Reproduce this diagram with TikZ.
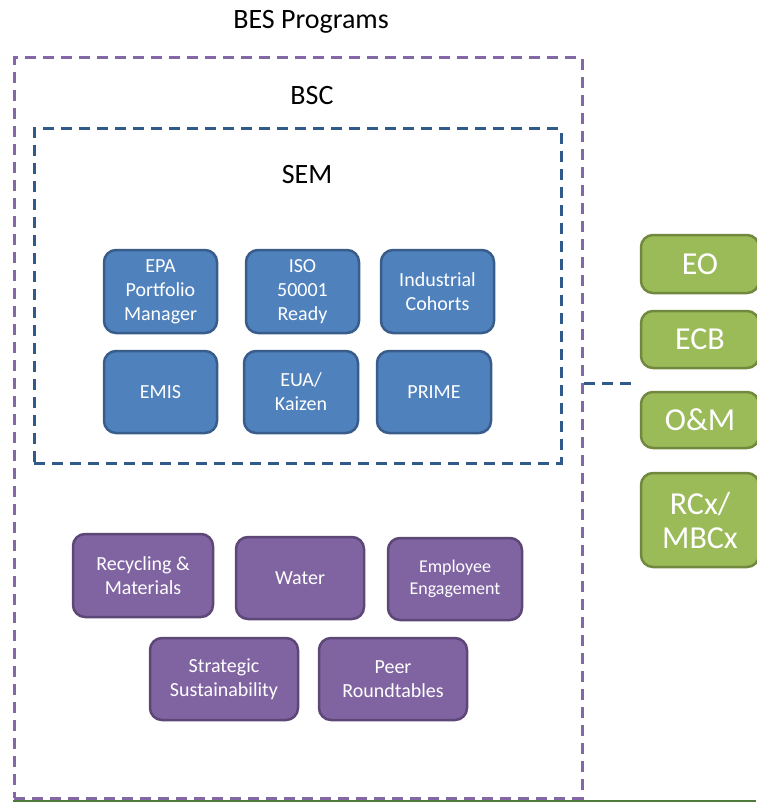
\documentclass[tikz,border=0pt]{standalone}
\usepackage{fontspec}
\setmainfont{Carlito}
\definecolor{bfill}{HTML}{4F81BD}
\definecolor{bdraw}{HTML}{385D8A}
\definecolor{pfill}{HTML}{8064A2}
\definecolor{pdraw}{HTML}{5C4776}
\definecolor{gfill}{HTML}{9BBB59}
\definecolor{gdraw}{HTML}{71893F}
\definecolor{pdash}{HTML}{8467A6}
\definecolor{bdash}{HTML}{2F5A8A}
\definecolor{gline}{HTML}{4F7A3A}
\tikzset{
  box/.style={rounded corners=12pt, line width=2.5pt, inner sep=0pt, align=center,
    text=white, font=\fontsize{20}{24}\selectfont},
  bluebox/.style={box, fill=bfill, draw=bdraw},
  purplebox/.style={box, fill=pfill, draw=pdraw},
  greenbox/.style={box, fill=gfill, draw=gdraw, font=\fontsize{32}{34}\selectfont},
  frame/.style={line width=3pt, dash pattern=on 11pt off 7pt, inner sep=0pt},
  titletext/.style={anchor=base, font=\fontsize{28}{34}\selectfont, inner sep=0pt},
  conn/.style={line width=3pt, draw=bdash, dash pattern=on 11pt off 7pt}
}
\begin{document}
\begin{tikzpicture}[x=1pt,y=-1pt]
\useasboundingbox (0,0) rectangle (756,802);
% frames
\node[frame, draw=pdash, minimum width=568pt, minimum height=740pt] (bsc) at (298,428) {};
\node[frame, draw=bdash, minimum width=527pt, minimum height=334pt] (sem) at (297.5,296) {};
% titles
\node[titletext] (bes) at (311,29) {BES Programs};
\node[titletext] (bsclabel) at (312,105) {BSC};
\node[titletext] (semlabel) at (307,184) {SEM};
% blue boxes
\node[bluebox, minimum width=113pt, minimum height=83pt] (epa) at (160.5,291.5) {EPA\\Portfolio\\Manager};
\node[bluebox, minimum width=113pt, minimum height=83pt] (iso) at (302.5,291.5) {ISO\\50001\\Ready};
\node[bluebox, minimum width=113pt, minimum height=83pt] (ind) at (437.5,291.5) {Industrial\\Cohorts};
\node[bluebox, minimum width=113pt, minimum height=82pt] (emis) at (160.5,392) {EMIS};
\node[bluebox, minimum width=114pt, minimum height=82pt] (eua) at (301,392) {EUA/\\Kaizen};
\node[bluebox, minimum width=114pt, minimum height=82pt] (prime) at (434,392) {PRIME};
% purple boxes
\node[purplebox, minimum width=140pt, minimum height=83pt] (rec) at (143,575.5) {Recycling \&\\Materials};
\node[purplebox, minimum width=128pt, minimum height=82pt] (water) at (300,578) {Water};
\node[purplebox, minimum width=134pt, minimum height=82pt, font=\fontsize{18}{22}\selectfont] (emp) at (455,579) {Employee\\Engagement};
\node[purplebox, minimum width=148pt, minimum height=82pt] (strat) at (224,679) {Strategic\\Sustainability};
\node[purplebox, minimum width=148pt, minimum height=82pt] (peer) at (393,679) {Peer\\Roundtables};
% green boxes
\node[greenbox, minimum width=118pt, minimum height=58pt] (eo) at (700,264) {EO};
\node[greenbox, minimum width=118pt, minimum height=57pt] (ecb) at (700,339.5) {ECB};
\node[greenbox, minimum width=118pt, minimum height=56pt] (om) at (700,420) {O\&M};
\node[greenbox, minimum width=118pt, minimum height=94pt] (rcx) at (700,520) {RCx/\\MBCx};
% connector
\coordinate (c1) at (584,383);
\coordinate (c2) at (632,383);
\draw[conn] (c1) -- (c2);
% bottom line
\coordinate (l1) at (13,801);
\coordinate (l2) at (756,801);
\draw[gline, line width=1.5pt] (l1) -- (l2);
\end{tikzpicture}
\end{document}
